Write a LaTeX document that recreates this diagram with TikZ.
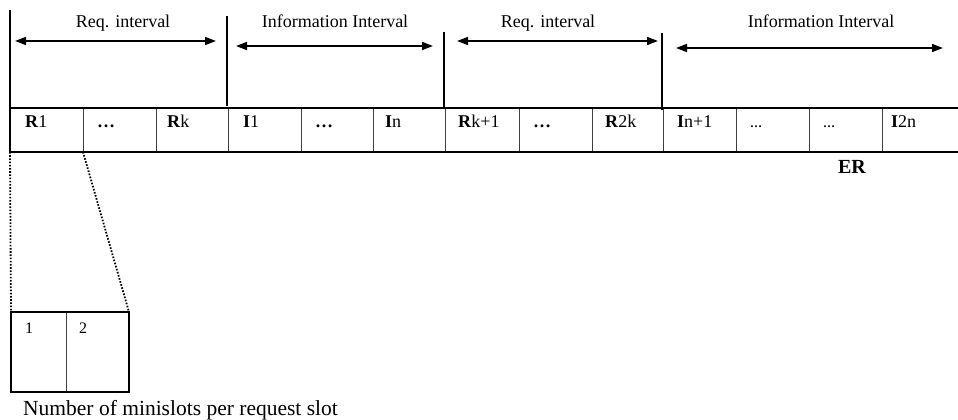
\documentclass[tikz,border=0pt]{standalone}
\usepackage{fontspec}
\setmainfont{Liberation Serif}
\usetikzlibrary{arrows.meta}
\begin{document}
\begin{tikzpicture}[x=1pt,y=-1pt,
  cellbox/.style={draw=none,minimum height=44pt,inner sep=0pt,outer sep=0pt},
  celltxt/.style={anchor=base west,inner sep=0pt,font=\fontsize{18}{20}\selectfont},
  hdr/.style={anchor=base,inner sep=0pt,font=\fontsize{18}{20}\selectfont},
  interval/.style={{Triangle[length=11pt,width=8pt]}-{Triangle[length=11pt,width=8pt]},line width=1.6pt},
  divider/.style={line width=1.6pt},
  thinline/.style={line width=0.9pt,draw=black!75},
  thickline/.style={line width=2.2pt},
  zoomline/.style={line width=1.8pt,dash pattern=on 1.6pt off 1.6pt}]
\useasboundingbox (0,0) rectangle (958,420);

% cells of the frame
\node[cellbox,minimum width=73pt] (c1) at (46.5,130) {};
\node[cellbox,minimum width=73pt] (c2) at (119.5,130) {};
\node[cellbox,minimum width=72pt] (c3) at (192,130) {};
\node[cellbox,minimum width=73pt] (c4) at (264.5,130) {};
\node[cellbox,minimum width=72pt] (c5) at (337,130) {};
\node[cellbox,minimum width=72pt] (c6) at (409,130) {};
\node[cellbox,minimum width=74pt] (c7) at (482,130) {};
\node[cellbox,minimum width=73pt] (c8) at (555.5,130) {};
\node[cellbox,minimum width=71pt] (c9) at (627.5,130) {};
\node[cellbox,minimum width=73pt] (c10) at (699.5,130) {};
\node[cellbox,minimum width=73pt] (c11) at (772.5,130) {};
\node[cellbox,minimum width=73pt] (c12) at (845.5,130) {};
\node[cellbox,minimum width=76pt] (c13) at (920,130) {};

% inner dividers
\foreach \i in {1,...,12} {
  \draw[thinline] (c\i.north east) -- (c\i.south east);
}
% top, bottom, left
\draw[thickline] (c1.north west) -- (c13.north east);
\draw[thickline] (c1.south west) -- (c13.south east);
\draw[thickline] (c1.north west) -- (c1.south west);

% cell texts
\node[celltxt] (t1) at (25,127) {\textbf{R}1};
\node[celltxt] (t2) at (97,127) {\textbf{…}};
\node[celltxt] (t3) at (167,127) {\textbf{R}k};
\node[celltxt] (t4) at (243,127) {\textbf{I}1};
\node[celltxt] (t5) at (315,127) {\textbf{…}};
\node[celltxt] (t6) at (385,127) {\textbf{I}n};
\node[celltxt] (t7) at (458,127) {\textbf{R}k+1};
\node[celltxt] (t8) at (533,127) {\textbf{…}};
\node[celltxt] (t9) at (605,127) {\textbf{R}2k};
\node[celltxt] (t10) at (677,127) {\textbf{I}n+1};
\node[celltxt,font=\fontsize{12}{14}\selectfont\bfseries] (t11) at (750,127) {…};
\node[celltxt,font=\fontsize{12}{14}\selectfont\bfseries] (t12) at (823,127) {…};
\node[celltxt] (t13) at (891,127) {\textbf{I}2n};

% ER label
\node[anchor=base,inner sep=0pt,font=\fontsize{20}{22}\selectfont\bfseries] (er) at (852,173) {ER};

% vertical interval separators
\coordinate (v1a) at (10,10);
\coordinate (v2a) at (227,16);  \coordinate (v2b) at (227,106);
\coordinate (v3a) at (444,32);  \coordinate (v3b) at (444,109);
\coordinate (v4a) at (662,33);  \coordinate (v4b) at (662,110);
\draw[divider] (v1a) -- (c1.north west);
\draw[divider] (v2a) -- (v2b);
\draw[divider] (v3a) -- (v3b);
\draw[divider] (v4a) -- (v4b);

% interval arrows
\coordinate (a1s) at (15,41);  \coordinate (a1e) at (216,41);
\coordinate (a2s) at (236,46); \coordinate (a2e) at (433,46);
\coordinate (a3s) at (457,41); \coordinate (a3e) at (658,41);
\coordinate (a4s) at (676,48); \coordinate (a4e) at (943,48);
\draw[interval] (a1s) -- (a1e);
\draw[interval] (a2s) -- (a2e);
\draw[interval] (a3s) -- (a3e);
\draw[interval] (a4s) -- (a4e);

% interval labels
\node[hdr] (h1) at (123,28) {Req. interval};
\node[hdr] (h2) at (335,28) {Information Interval};
\node[hdr] (h3) at (548,28) {Req. interval};
\node[hdr] (h4) at (821,28) {Information Interval};

% minislot box
\node[cellbox,minimum width=55pt,minimum height=80pt] (m1) at (38.5,352) {};
\node[cellbox,minimum width=63pt,minimum height=80pt] (m2) at (97.5,352) {};
\draw[thinline] (m1.north east) -- (m1.south east);
\draw[thickline] (m1.north west) rectangle (m2.south east);
\node[anchor=base west,inner sep=0pt,font=\fontsize{16}{18}\selectfont] (n1) at (25,333) {1};
\node[anchor=base west,inner sep=0pt,font=\fontsize{16}{18}\selectfont] (n2) at (79,333) {2};

% zoom lines
\draw[zoomline] (c1.south west) -- (m1.north west);
\draw[zoomline] (c1.south east) -- (m2.north east);

% caption
\node[anchor=base west,inner sep=0pt,font=\fontsize{21.5}{24}\selectfont] (cap) at (23,415) {Number of minislots per request slot};
\end{tikzpicture}
\end{document}
